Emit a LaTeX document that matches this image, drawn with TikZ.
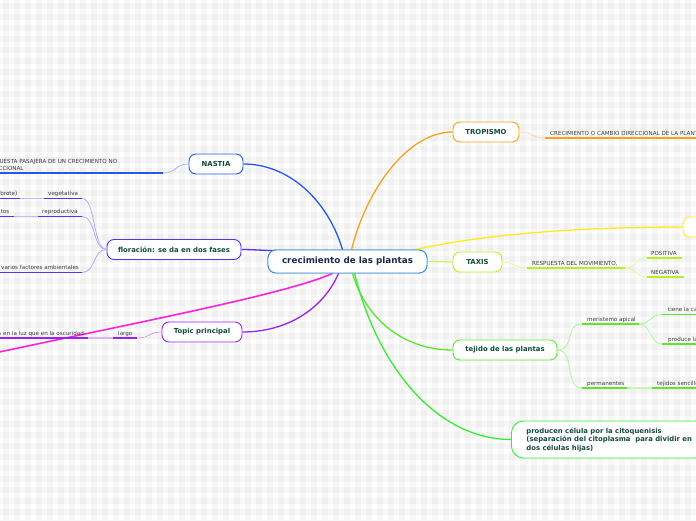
\documentclass[tikz,border=0pt]{standalone}
\usepackage{fontspec}
\setmainfont{DejaVu Sans}
\definecolor{ctrblue}{HTML}{3D8FD6}
\definecolor{ctrtext}{HTML}{1B2A4E}
\definecolor{ntext}{HTML}{124A3C}
\definecolor{ctext}{HTML}{3A3A3A}
\definecolor{orng}{HTML}{F7A21B}
\definecolor{yel}{HTML}{FFEA1A}
\definecolor{ygreen}{HTML}{B6F020}
\definecolor{grn}{HTML}{5CE62E}
\definecolor{bgreen}{HTML}{33EE33}
\definecolor{nblue}{HTML}{2358F0}
\definecolor{violet}{HTML}{5533EE}
\definecolor{purp}{HTML}{9A22EE}
\definecolor{magen}{HTML}{FF22DD}
\tikzset{
  mainbox/.style={draw, fill=white, rounded corners=7pt, line width=0.9pt, inner sep=0pt,
    minimum height=20pt, text=ntext, font=\bfseries\fontsize{6.9}{8}\selectfont},
  ctxt/.style={text=ctext, inner sep=0pt, font=\fontsize{5.6}{7}\selectfont},
  uline/.style={line width=1.6pt},
  thinc/.style={line width=0.7pt},
  maincon/.style={line width=1.3pt},
}
\begin{document}
\begin{tikzpicture}[x=1pt,y=-1pt]
\useasboundingbox (0,0) rectangle (696,520);
\clip (0,0) rectangle (696,520);
% background grid
\fill[white] (0,0) rectangle (696,520);
\foreach \k in {0,...,63} {\fill[black,opacity=0.033] ({3+11*\k},0) rectangle ({8.5+11*\k},520);}
\foreach \k in {0,...,47} {\fill[black,opacity=0.033] (0,{3+11*\k}) rectangle (696,{8.5+11*\k});}

% main nodes
\node[mainbox, draw=ctrblue, text=ctrtext, minimum width=159pt, minimum height=23pt, rounded corners=8pt,
  font=\bfseries\fontsize{8.8}{10}\selectfont] (c) at (347.5,261.5) {crecimiento de las plantas};
\node[mainbox, draw=orng, minimum width=66pt] (trop) at (486,132) {TROPISMO};
\node[mainbox, draw=yel, minimum width=60pt] (yl) at (713,227) {};
\node[mainbox, draw=ygreen, minimum width=49pt] (taxis) at (477.5,262) {TAXIS};
\node[mainbox, draw=grn, minimum width=104pt] (tej) at (505,350) {tejido de las plantas};
\node[mainbox, draw=bgreen, anchor=west, minimum height=37pt, rounded corners=12pt, inner xsep=15pt,
  align=left, font=\bfseries\fontsize{6.85}{8.5}\selectfont] (prod) at (511,439.5)
  {producen célula por la citoquenisis\\(separación del citoplasma\ \ para dividir en\\dos células hijas)};
\node[mainbox, draw=nblue, minimum width=54pt] (nastia) at (216,164) {NASTIA};
\node[mainbox, draw=violet, minimum width=134pt] (flor) at (174,249.5) {floración: se da en dos fases};
\node[mainbox, draw=purp, minimum width=80pt] (topic) at (202,332) {Topic principal};
\coordinate (mag) at (-3,352.5);

% main connectors (behind central box)
\draw[maincon, orng] ([xshift=4pt]c.north) .. controls +(15,-60) and +(-45,0) .. (trop.west);
\draw[maincon, nblue] ([xshift=-5pt]c.north) .. controls +(-15,-50) and +(45,0) .. (nastia.east);
\draw[maincon, yel] ([xshift=-12pt]c.north east) .. controls +(80,-18) and +(-80,0) .. (yl.west);
\draw[maincon, ygreen!70] (c.east) -- (taxis.west);
\draw[maincon, grn] ([xshift=5pt]c.south) .. controls +(15,50) and +(-45,0) .. (tej.west);
\draw[maincon, bgreen] ([xshift=7pt]c.south) .. controls +(25,100) and +(-70,0) .. (prod.west);
\draw[maincon, violet] (flor.east) .. controls +(12,0) and +(-12,0) .. ([xshift=8pt,yshift=-1pt]c.north west);
\draw[maincon, purp] ([xshift=-9pt]c.south) .. controls +(-15,35) and +(45,0) .. (topic.east);
\draw[maincon, magen, line width=1.6pt] ([xshift=-15pt]c.south) .. controls +(-45,20) and +(150,-32) .. (mag);

% redraw central box on top
\node[mainbox, draw=ctrblue, text=ctrtext, minimum width=159pt, minimum height=23pt, rounded corners=8pt,
  font=\bfseries\fontsize{8.8}{10}\selectfont] (c2) at (347.5,261.5) {crecimiento de las plantas};

% ---- TROPISMO child
\coordinate (t1a) at (545,138); \coordinate (t1b) at (698,138);
\draw[thinc, orng!45] (trop.east) .. controls +(14,0) and +(-14,0) .. (t1a);
\draw[uline, orng] (t1a) -- (t1b);
\node[ctxt, anchor=base west] (t1t) at (550,135) {CRECIMIENTO O CAMBIO DIRECCIONAL DE LA PLANTA};

% ---- TAXIS children
\coordinate (x1a) at (527,268); \coordinate (x1b) at (625,268);
\draw[thinc, ygreen!45] (taxis.east) .. controls +(14,0) and +(-14,0) .. (x1a);
\draw[uline, ygreen] (x1a) -- (x1b);
\node[ctxt, anchor=base west] (x1t) at (532,265) {RESPUESTA DEL MOVIMIENTO,};
\coordinate (x2a) at (647,258); \coordinate (x2b) at (682,258);
\coordinate (x3a) at (647,277); \coordinate (x3b) at (684,277);
\draw[thinc, ygreen!45] (x1b) .. controls +(12,0) and +(-12,0) .. (x2a);
\draw[thinc, ygreen!45] (x1b) .. controls +(12,0) and +(-12,0) .. (x3a);
\draw[uline, ygreen] (x2a) -- (x2b);
\draw[uline, ygreen] (x3a) -- (x3b);
\node[ctxt, anchor=base west] (x2t) at (651,255) {POSITIVA};
\node[ctxt, anchor=base west] (x3t) at (651,274) {NEGATIVA};

% ---- tejido children
\coordinate (j1a) at (582,324); \coordinate (j1b) at (639,324);
\coordinate (j2a) at (582,388); \coordinate (j2b) at (627,388);
\draw[thinc, grn!50] (tej.east) .. controls +(18,0) and +(-18,0) .. (j1a);
\draw[thinc, grn!50] (tej.east) .. controls +(18,0) and +(-18,0) .. (j2a);
\draw[uline, grn] (j1a) -- (j1b);
\draw[uline, grn] (j2a) -- (j2b);
\node[ctxt, anchor=base west] (j1t) at (587,321) {meristemo apical};
\node[ctxt, anchor=base west] (j2t) at (587,385) {permanentes};
\coordinate (j3a) at (662,314.5); \coordinate (j3b) at (698,314.5);
\coordinate (j4a) at (662,344); \coordinate (j4b) at (698,344);
\draw[thinc, grn!50] (j1b) .. controls +(12,0) and +(-12,0) .. (j3a);
\draw[thinc, grn!50] (j1b) .. controls +(12,0) and +(-12,0) .. (j4a);
\draw[uline, grn] (j3a) -- (j3b);
\draw[uline, grn] (j4a) -- (j4b);
\node[ctxt, anchor=base west] (j3t) at (668,311.5) {tiene la capacidad de división};
\node[ctxt, anchor=base west] (j4t) at (668,341) {produce la elongación};
\coordinate (j5a) at (652,388); \coordinate (j5b) at (698,388);
\draw[uline, grn!35] (j2b) -- (j5a);
\draw[uline, grn] (j5a) -- (j5b);
\node[ctxt, anchor=base west] (j5t) at (657,385) {tejidos sencillos};

% ---- NASTIA child
\coordinate (n1a) at (163,173); \coordinate (n1b) at (-2,173);
\draw[thinc, nblue!45] (nastia.west) .. controls +(-14,0) and +(14,0) .. (n1a);
\draw[uline, nblue] (n1b) -- (n1a);
\node[ctxt, anchor=south west, align=left] (n1t) at (-15,171)
  {RESPUESTA PASAJERA DE UN CRECIMIENTO NO\\DIRECCIONAL};

% ---- floracion children
\coordinate (f1a) at (44,198.5); \coordinate (f1b) at (82,198.5);
\coordinate (f2a) at (38,216.5); \coordinate (f2b) at (82,216.5);
\coordinate (f3a) at (-2,272.5); \coordinate (f3b) at (82,272.5);
\draw[thinc, violet!45] (f1b) .. controls +(14,0) and +(-14,0) .. (flor.west);
\draw[thinc, violet!45] (f2b) .. controls +(14,0) and +(-14,0) .. (flor.west);
\draw[thinc, violet!45] (f3b) .. controls +(14,0) and +(-14,0) .. (flor.west);
\draw[uline, violet] (f1a) -- (f1b);
\draw[uline, violet] (f2a) -- (f2b);
\draw[uline, violet] (f3a) -- (f3b);
\node[ctxt, anchor=base west] (f1t) at (48,195.5) {vegetativa};
\node[ctxt, anchor=base west] (f2t) at (42,213.5) {reproductiva};
\node[ctxt, anchor=base west] (f3t) at (1,269.5) {varios factores ambientales};
\coordinate (f4a) at (20,198.5); \coordinate (f4b) at (-2,198.5);
\coordinate (f5a) at (14,216.5); \coordinate (f5b) at (-2,216.5);
\draw[uline, violet!35] (f4a) -- (f1a);
\draw[uline, violet!35] (f5a) -- (f2a);
\draw[uline, violet] (f4b) -- (f4a);
\draw[uline, violet] (f5b) -- (f5a);
\node[ctxt, anchor=base east] (f4t) at (17.5,195.5) {(brote)};
\node[ctxt, anchor=base east] (f5t) at (9.5,213.5) {frutos};

% ---- Topic principal children
\coordinate (p1a) at (113,338); \coordinate (p1b) at (137,338);
\coordinate (p2a) at (88,338); \coordinate (p2b) at (-2,338);
\draw[thinc, purp!45] (p1b) .. controls +(14,0) and +(-14,0) .. (topic.west);
\draw[uline, purp] (p1a) -- (p1b);
\draw[uline, purp!35] (p2a) -- (p1a);
\draw[uline, purp] (p2b) -- (p2a);
\node[ctxt, anchor=base west] (p1t) at (118,335) {largo};
\node[ctxt, anchor=base east] (p2t) at (84,335) {más horas en la luz que en la oscuridad};
\end{tikzpicture}
\end{document}
